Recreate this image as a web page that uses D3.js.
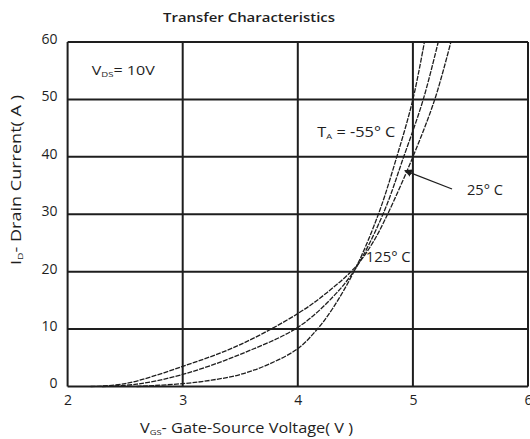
<!DOCTYPE html>
<html><head><meta charset="utf-8">
<script src="https://cdn.jsdelivr.net/npm/d3@7"></script>
<style>
html,body{margin:0;padding:0;background:#fff;}
svg{display:block;font-family:"Open Sans","Liberation Sans",sans-serif;}
</style></head>
<body>
<svg id="chart" width="530" height="439"></svg>
<script>
// Data (VGS in V, ID in A)
const xTicks = [2, 3, 4, 5, 6];
const yTicks = [0, 10, 20, 30, 40, 50, 60];
const vgsM55 = [2.6, 3.0, 3.25, 3.5, 3.75, 4.0, 4.17, 4.3, 4.5, 4.7, 4.86, 5.0, 5.1];
const idM55  = [0, 0.5, 1.1, 2.1, 3.9, 6.6, 10, 13.5, 20.5, 30, 40, 50, 60];
const vgs25  = [2.3, 2.6, 3.0, 3.5, 4.0, 4.3, 4.5, 4.74, 4.92, 5.09, 5.22];
const id25   = [0, 0.4, 2.1, 5.6, 10.3, 15.5, 20.5, 30, 40, 50, 60];
const vgs125 = [2.2, 2.5, 3.0, 3.5, 4.0, 4.25, 4.5, 4.65, 4.78, 5.0, 5.19, 5.33];
const id125  = [0, 0.5, 3.5, 7.3, 12.7, 16.3, 20.8, 25, 30, 40, 50, 60];
const series = [
  {name: "-55", x: vgsM55, y: idM55},
  {name: "25", x: vgs25, y: id25},
  {name: "125", x: vgs125, y: id125}
];

const svg = d3.select("#chart");
const m = {l: 67.6, r: 528, t: 42, b: 386.5};
const x = d3.scaleLinear().domain([2, 6]).range([m.l, m.r]);
const y = d3.scaleLinear().domain([0, 60]).range([m.b, m.t]);
const ink = "#1e1e1e";

// grid
svg.append("g").selectAll("line").data(xTicks).join("line")
  .attr("x1", d => x(d)).attr("x2", d => x(d)).attr("y1", m.t).attr("y2", m.b)
  .attr("stroke", ink).attr("stroke-width", 2);
svg.append("g").selectAll("line").data(yTicks).join("line")
  .attr("y1", d => y(d)).attr("y2", d => y(d)).attr("x1", m.l).attr("x2", m.r)
  .attr("stroke", ink).attr("stroke-width", 2);

// tick labels via d3 axes
const xa = svg.append("g").attr("transform", `translate(0,${m.b})`)
  .call(d3.axisBottom(x).tickValues(xTicks).tickFormat(d3.format("d")).tickSize(0).tickPadding(9));
const ya = svg.append("g").attr("transform", `translate(${m.l},0)`)
  .call(d3.axisLeft(y).tickValues(yTicks).tickFormat(d3.format("d")).tickSize(0).tickPadding(10));
[xa, ya].forEach(a => {
  a.select(".domain").remove();
  a.selectAll("text").attr("font-size", 14).attr("fill", ink).attr("font-family", "'Open Sans', sans-serif");
});
ya.selectAll("text").attr("dy", "0.1em");

// curves
const line = d3.line().x(d => x(d[0])).y(d => y(d[1])).curve(d3.curveCatmullRom.alpha(0.5));
svg.append("g").selectAll("path").data(series).join("path")
  .attr("d", s => line(s.x.map((v, i) => [v, s.y[i]])))
  .attr("fill", "none").attr("stroke", ink).attr("stroke-width", 1.3)
  .attr("stroke-dasharray", "5,1.2");

// title
svg.append("text").attr("x", 163).attr("y", 22)
  .attr("font-size", 13).attr("font-weight", 600).attr("fill", ink)
  .attr("textLength", 172).attr("lengthAdjust", "spacingAndGlyphs")
  .text("Transfer Characteristics");

// x-axis title
const xt = svg.append("text").attr("x", 140).attr("y", 433).attr("font-size", 14).attr("fill", ink)
  .attr("textLength", 213).attr("lengthAdjust", "spacingAndGlyphs");
xt.append("tspan").text("V");
xt.append("tspan").attr("font-size", 8).attr("dy", 2).text("GS");
xt.append("tspan").attr("dy", -2).text("- Gate-Source Voltage( V )");

// y-axis title
const yt = svg.append("text").attr("transform", "translate(21,265) rotate(-90)")
  .attr("font-size", 14).attr("fill", ink)
  .attr("textLength", 170).attr("lengthAdjust", "spacingAndGlyphs");
yt.append("tspan").text("I");
yt.append("tspan").attr("font-size", 8).attr("dy", 2).text("D");
yt.append("tspan").attr("dy", -2).text("- Drain Current( A )");

// annotations
const vds = svg.append("text").attr("x", x(2.21)).attr("y", y(54.3)).attr("font-size", 13.5).attr("fill", ink)
  .attr("textLength", 63).attr("lengthAdjust", "spacingAndGlyphs");
vds.append("tspan").text("V");
vds.append("tspan").attr("font-size", 8).attr("dy", 2).text("DS");
vds.append("tspan").attr("dy", -2).text("= 10V");

const ta = svg.append("text").attr("x", x(4.17)).attr("y", y(43.5)).attr("font-size", 14).attr("fill", ink)
  .attr("textLength", 78).attr("lengthAdjust", "spacingAndGlyphs");
ta.append("tspan").text("T");
ta.append("tspan").attr("font-size", 8).attr("dy", 2).text("A");
ta.append("tspan").attr("dy", -2).text(" = -55° C");

svg.append("text").attr("x", x(5.47)).attr("y", y(33.4)).attr("font-size", 14).attr("fill", ink)
  .attr("textLength", 36).attr("lengthAdjust", "spacingAndGlyphs").text("25° C");
svg.append("text").attr("x", x(4.59)).attr("y", y(21.7)).attr("font-size", 14).attr("fill", ink)
  .attr("textLength", 45).attr("lengthAdjust", "spacingAndGlyphs").text("125° C");

// arrow
svg.append("defs").append("marker").attr("id", "ah").attr("viewBox", "0 0 10 10")
  .attr("refX", 9).attr("refY", 5).attr("markerWidth", 6).attr("markerHeight", 6)
  .attr("orient", "auto").append("path").attr("d", "M0,0L10,5L0,10z").attr("fill", ink);
svg.append("line").attr("x1", x(5.34)).attr("y1", y(34.4)).attr("x2", x(4.93)).attr("y2", y(37.6))
  .attr("stroke", ink).attr("stroke-width", 1.3).attr("marker-end", "url(#ah)");
</script>
</body></html>
